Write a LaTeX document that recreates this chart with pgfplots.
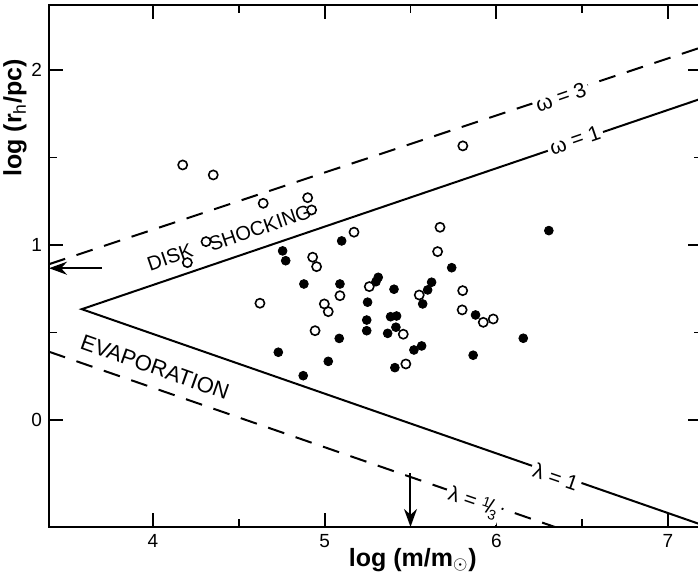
\documentclass[border=0pt]{standalone}
\usepackage{pgfplots}
\pgfplotsset{compat=1.18}
\usepackage{pgfplotstable}
\usepackage{fontspec}
\setmainfont{Liberation Sans}
\usetikzlibrary{arrows.meta}

% open circles
\pgfplotstableread{
x y
4.173 1.457
4.351 1.400
4.642 1.238
4.901 1.270
4.924 1.200
4.309 1.019
4.200 0.899
5.171 1.073
4.930 0.930
4.953 0.876
4.623 0.667
5.089 0.710
4.998 0.663
5.021 0.619
4.944 0.510
5.260 0.762
5.672 1.101
5.658 0.962
5.551 0.714
5.804 0.739
5.801 0.629
5.924 0.558
5.982 0.577
5.458 0.490
5.473 0.320
5.805 1.566
}\opendata

% filled circles
\pgfplotstableread{
x y
5.099 1.023
4.755 0.966
4.773 0.910
4.879 0.777
5.089 0.777
5.250 0.673
5.245 0.571
5.245 0.510
5.085 0.466
5.312 0.815
5.299 0.790
5.404 0.747
5.384 0.590
5.419 0.594
5.415 0.530
5.367 0.495
5.623 0.787
5.600 0.743
5.571 0.663
5.740 0.870
5.879 0.600
6.157 0.467
5.865 0.370
5.565 0.423
5.520 0.400
5.409 0.299
4.730 0.387
5.021 0.335
4.875 0.253
6.306 1.082
}\filleddata

\begin{document}
\begin{tikzpicture}
\begin{axis}[
    name=ax, scale only axis,
    width=326.7pt, height=261pt,
    xmin=3.394, xmax=7.2, ymin=-0.611, ymax=2.371,
    xtick={4,5,6,7}, ytick={0,1,2}, minor tick num=1,
    tick align=inside, major tick length=7pt, minor tick length=4pt,
    axis line style={line width=1pt},
    every tick/.style={black, line width=0.9pt},
    /pgf/number format/assume math mode=true,
    tick label style={font=\fontsize{9.5}{11}\selectfont},
    xlabel={log (m/m$_{\odot}$)}, ylabel={log (r$_{\mathrm{h}}$/pc)},
    label style={font=\bfseries\fontsize{12.5}{14}\selectfont},
    xlabel style={at={(axis description cs:0.557,-0.063)}, anchor=center},
    ylabel style={at={(axis description cs:-0.052,0.784)}, anchor=center},
    clip=true,
]
% data
\addplot[only marks, mark=o, mark size=2.3pt, mark options={line width=0.8pt}] table {\opendata};
\addplot[only marks, mark=*, mark size=2.2pt] table {\filleddata};
% limits
\addplot[line width=1pt] coordinates {(7.2,1.838) (3.585,0.633) (7.2,-0.600)};
\addplot[line width=1pt, dash pattern=on 8.5pt off 6pt] coordinates {(3.394,0.890) (7.2,2.131)};
\addplot[line width=1pt, dash pattern=on 8.5pt off 6pt] coordinates {(3.394,0.390) (6.34,-0.611)};
% arrows
\addplot[line width=1pt, -{Stealth[length=9pt,width=6.5pt]}] coordinates {(3.70,0.867) (3.394,0.867)};
\addplot[line width=1pt, -{Stealth[length=9pt,width=6.5pt]}] coordinates {(5.5,-0.305) (5.5,-0.611)};
% labels
\node[rotate=19, font=\fontsize{10}{12}\selectfont] at (axis cs:4.099,0.931) {DISK};
\node[rotate=19, font=\fontsize{10}{12}\selectfont] at (axis cs:4.623,1.097) {SHOCKING};
\node[rotate=-19.5, font=\fontsize{11}{12}\selectfont] at (axis cs:4.012,0.303) {EVAPORATION};
\node[rotate=19, fill=white, inner sep=1.5pt, font=\fontsize{10.5}{12}\selectfont] at (axis cs:6.376,1.846) {ω = 3};
\node[rotate=19, fill=white, inner sep=1.5pt, font=\fontsize{10.5}{12}\selectfont] at (axis cs:6.458,1.600) {ω = 1};
\node[rotate=-19, fill=white, inner sep=1.5pt, font=\fontsize{10.5}{12}\selectfont] at (axis cs:6.347,-0.326) {λ = 1};
\node[rotate=-19, fill=white, inner sep=1.5pt, font=\fontsize{10.5}{12}\selectfont] at (axis cs:5.864,-0.474) {λ = \raisebox{0.5ex}{\scriptsize 1}\kern-0.1em/\kern-0.1em\raisebox{-0.5ex}{\scriptsize 3}};
\end{axis}
\pgfresetboundingbox
\path[use as bounding box] ([xshift=-24.5pt,yshift=-23pt]ax.south west) rectangle ([xshift=-2.15pt,yshift=2.5pt]ax.north east);
\end{tikzpicture}
\end{document}
